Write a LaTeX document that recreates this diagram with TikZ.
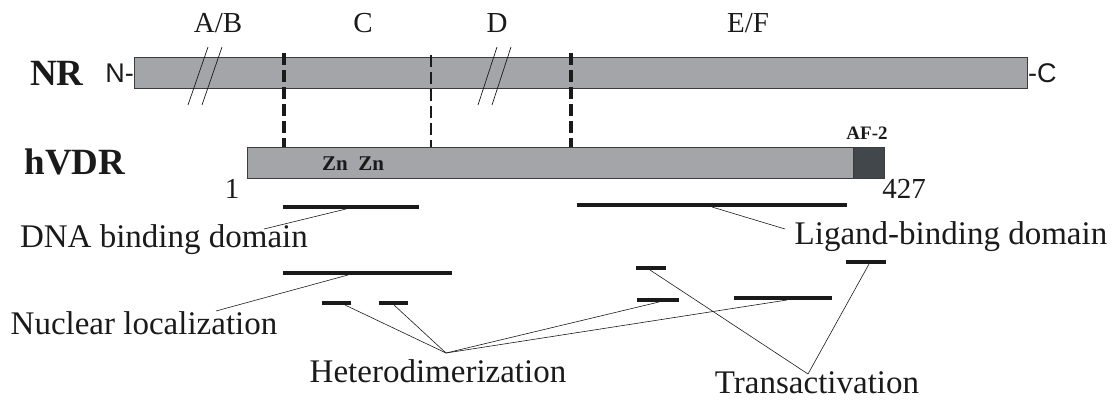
\documentclass[tikz,border=0pt]{standalone}
\usepackage{fontspec}
\setmainfont{Liberation Serif}
\newfontfamily\arialfont{Liberation Sans}
\definecolor{barg}{HTML}{A3A5A9}
\definecolor{darkg}{HTML}{42474B}
\definecolor{ink}{HTML}{1A1A1A}
\begin{document}
\begin{tikzpicture}[x=1pt,y=-1pt,
  bar/.style={draw=ink!85, fill=barg, line width=0.8pt},
  dom/.style={draw=ink, line width=3.5pt},
  leader/.style={draw=ink, line width=0.6pt},
  thickdash/.style={draw=ink, line width=3.6pt, dash pattern=on 12pt off 5pt},
  thindash/.style={draw=ink, line width=1.8pt, dash pattern=on 12pt off 5pt},
  slash/.style={draw=ink, line width=0.7pt},
  lab/.style={inner sep=0pt, text=ink, font=\fontsize{29}{31}\selectfont},
  big/.style={inner sep=0pt, text=ink, font=\fontsize{37}{40}\selectfont\bfseries},
  sans/.style={inner sep=0pt, text=ink, font=\arialfont\fontsize{27}{30}\selectfont},
  txt/.style={inner sep=0pt, text=ink, font=\fontsize{33}{35}\selectfont}]
\useasboundingbox (0,0) rectangle (1113,399);
% region labels
\node[lab] (ab) at (218,23) {A/B};
\node[lab] (c) at (363,23) {C};
\node[lab] (d) at (497,23) {D};
\node[lab] (ef) at (748,23) {E/F};
% NR bar
\node[big] (nr) at (57,73) {NR};
\node[sans, anchor=east] (nterm) at (134,73) {N-};
\draw[bar] (134,57) rectangle (1027,88);
\node[sans, anchor=west] (cterm) at (1028,73) {-C};
% slashes
\draw[slash] (188,105) -- (208,47);
\draw[slash] (202,105) -- (222,47);
\draw[slash] (478,105) -- (497,47);
\draw[slash] (492,105) -- (511,47);
% hVDR bar
\node[big] (hvdr) at (75,162) {hVDR};
\draw[bar] (247,147) rectangle (853,178);
\draw[draw=ink!85, fill=darkg, line width=0.8pt] (853,147) rectangle (884,178);
\node[inner sep=0pt, text=ink, font=\fontsize{19}{21}\selectfont\bfseries] (af2) at (867,133) {AF-2};
\node[inner sep=0pt, text=ink, font=\fontsize{21}{23}\selectfont\bfseries] (zn) at (353,164) {Zn\ \ Zn};
\node[lab] (one) at (232,189) {1};
\node[lab] (n427) at (904,189) {427};
% dashed boundaries
\coordinate (d1t) at (284,53); \coordinate (d1b) at (284,147);
\coordinate (d2t) at (431,55); \coordinate (d2b) at (431,147);
\coordinate (d3t) at (571,53); \coordinate (d3b) at (571,147);
\draw[thickdash] (d1t) -- (d1b);
\draw[thindash] (d2t) -- (d2b);
\draw[thickdash] (d3t) -- (d3b);
% domain lines
\coordinate (dnaL) at (283,207); \coordinate (dnaR) at (419,207);
\draw[dom] (dnaL) -- (dnaR);
\coordinate (lbdL) at (577,205); \coordinate (lbdR) at (847,205);
\draw[dom] (lbdL) -- (lbdR);
\coordinate (nlsL) at (283,273); \coordinate (nlsR) at (452,273);
\draw[dom] (nlsL) -- (nlsR);
\coordinate (h1L) at (322,303); \coordinate (h1R) at (351,303);
\draw[dom] (h1L) -- (h1R);
\coordinate (h2L) at (379,303); \coordinate (h2R) at (408,303);
\draw[dom] (h2L) -- (h2R);
\coordinate (h3L) at (637,300); \coordinate (h3R) at (679,300);
\draw[dom] (h3L) -- (h3R);
\coordinate (h4L) at (734,298); \coordinate (h4R) at (832,298);
\draw[dom] (h4L) -- (h4R);
\coordinate (t1L) at (636,268); \coordinate (t1R) at (666,268);
\draw[dom, line width=4.5pt] (t1L) -- (t1R);
\coordinate (t2L) at (846,262); \coordinate (t2R) at (886,262);
\draw[dom] (t2L) -- (t2R);
% text labels
\node[txt] (dnat) at (164,240) {DNA binding domain};
\node[txt] (lbdt) at (951,237) {Ligand-binding domain};
\node[txt] (nlst) at (144,323) {Nuclear localization};
\node[txt] (hett) at (438,371) {Heterodimerization};
\node[txt] (trat) at (817,383) {Transactivation};
% leader anchor points
\coordinate (dnaP) at (346,209);
\coordinate (dnaE) at (264,229);
\coordinate (lbdP) at (712,207);
\coordinate (lbdE) at (785,229);
\coordinate (nlsP) at (348,275);
\coordinate (nlsE) at (216,311);
\coordinate (hetE) at (446,353);
\coordinate (traE) at (808,374);
\draw[leader] (dnaP) -- (dnaE);
\draw[leader] (lbdP) -- (lbdE);
\draw[leader] (nlsP) -- (nlsE);
\draw[leader] (hetE) -- (345,305);
\draw[leader] (hetE) -- (394,305);
\draw[leader] (hetE) -- (659,302);
\draw[leader] (hetE) -- (787,300);
\draw[leader] (traE) -- (650,270);
\draw[leader] (traE) -- (869,264);
\end{tikzpicture}
\end{document}
